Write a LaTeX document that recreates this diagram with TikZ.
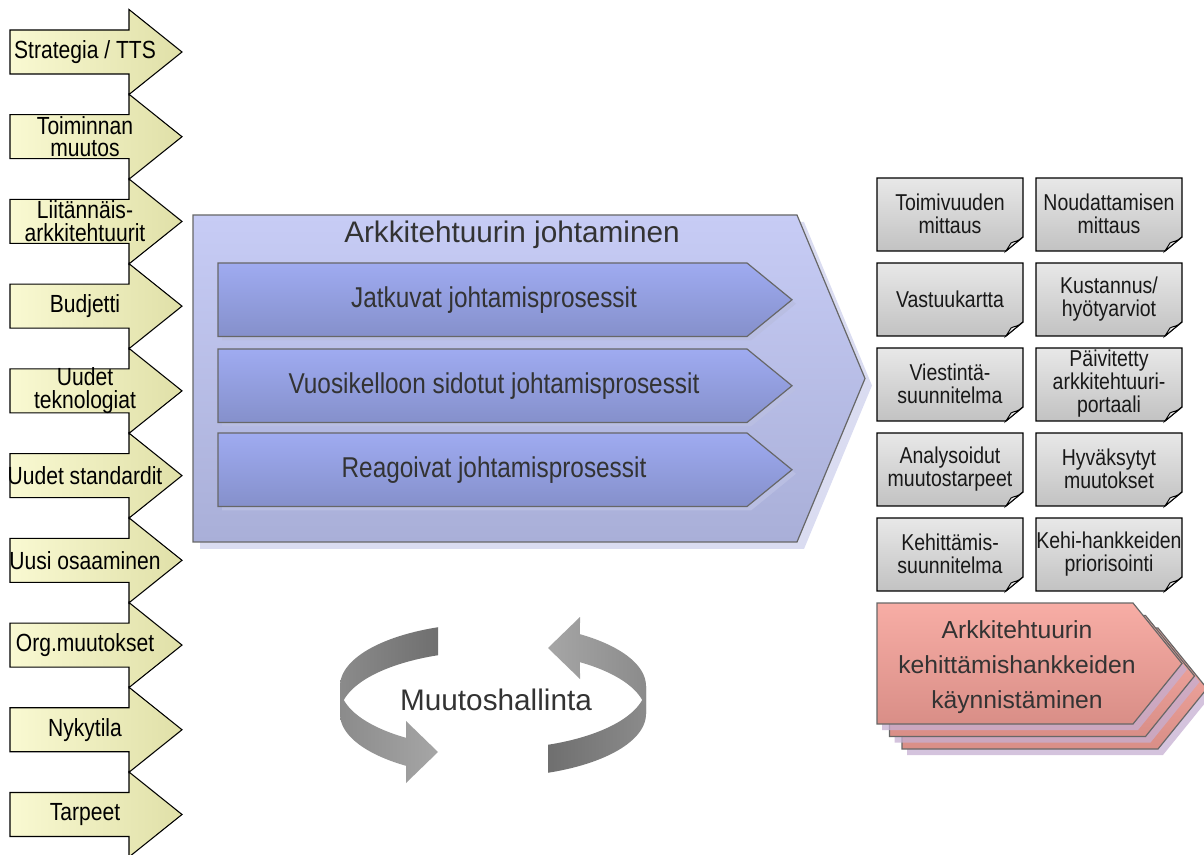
\documentclass[tikz,border=0pt]{standalone}
\usepackage{fontspec}
\setmainfont{Liberation Sans}
\newfontfamily\narrowsf{Liberation Sans}[FakeStretch=0.85]
\usetikzlibrary{calc}

\definecolor{inL}{HTML}{F9F9D2}
\definecolor{inR}{HTML}{E0E0A8}
\definecolor{mainT}{HTML}{C7CCF5}
\definecolor{mainB}{HTML}{A9AFD8}
\definecolor{mainShadow}{HTML}{DADCF1}
\definecolor{procT}{HTML}{9FABF1}
\definecolor{procB}{HTML}{8590CB}
\definecolor{procShadow}{HTML}{B9BEE2}
\definecolor{docT}{HTML}{E8E8E8}
\definecolor{docB}{HTML}{C2C2C2}
\definecolor{pinkT}{HTML}{F7ADA5}
\definecolor{pinkB}{HTML}{D98E87}
\definecolor{pinkShadow}{HTML}{C6AFD2}
\definecolor{ringDark}{HTML}{6F6F6F}
\definecolor{ringMid}{HTML}{8B8B8B}
\definecolor{ringLight}{HTML}{A6A6A6}
\definecolor{txtgray}{HTML}{333333}
\definecolor{edgegray}{HTML}{676767}

\begin{document}
\begin{tikzpicture}[x=0.75pt,y=-0.75pt,
  inarrow/.style={draw=black, line width=0.8pt, left color=inL, right color=inR},
  intext/.style={font=\narrowsf\fontsize{18.6}{17}\selectfont, align=center, text=black, inner sep=0pt},
  mainshape/.style={draw=edgegray, line width=0.9pt, top color=mainT, bottom color=mainB},
  procshape/.style={draw=edgegray, line width=0.9pt, top color=procT, bottom color=procB},
  proctext/.style={font=\narrowsf\fontsize{21.5}{24}\selectfont, text=txtgray, inner sep=0pt},
  titletext/.style={font=\fontsize{22.3}{26}\selectfont, text=txtgray, inner sep=0pt},
  docshape/.style={draw=black, line width=0.9pt, top color=docT, bottom color=docB},
  docflap/.style={draw=black, line width=0.7pt, fill=docT},
  doctext/.style={font=\narrowsf\fontsize{17.2}{17.2}\selectfont, align=center, text=black!90, inner sep=0pt},
  pinkshape/.style={draw=edgegray, line width=0.9pt, top color=pinkT, bottom color=pinkB},
  pinktext/.style={font=\fontsize{18.5}{26}\selectfont, align=center, text=txtgray, inner sep=0pt}]

\useasboundingbox (0,0) rectangle (1204,855);

% ---------- input arrows on the left ----------
\foreach \txt [count=\i from 0] in {{Strategia / TTS},{Toiminnan\\muutos},{Liitännäis-\\arkkitehtuurit},{Budjetti},{Uudet\\teknologiat},{Uudet standardit},{Uusi osaaminen},{Org.muutokset},{Nykytila},{Tarpeet}}{
  \pgfmathsetmacro\cy{52+84.72*\i}
  \path[inarrow] (10,\cy-22) -- (129,\cy-22) -- (129,\cy-42.5) -- (182,\cy)
        -- (129,\cy+42.5) -- (129,\cy+22) -- (10,\cy+22) -- cycle;
  \node[intext] (in\i) at (85,\cy) {\txt};
}

% ---------- architecture management block ----------
\fill[mainShadow] (200,222) -- (804,222) -- (872,385.5) -- (804,549) -- (200,549) -- cycle;
\path[mainshape] (193,215) -- (797,215) -- (865,378.5) -- (797,542) -- (193,542) -- cycle;
\node[titletext] (title) at (512,235) {Arkkitehtuurin johtaminen};

\foreach \top/\txt [count=\i] in {263/{Jatkuvat johtamisprosessit},349/{Vuosikelloon sidotut johtamisprosessit},433/{Reagoivat johtamisprosessit}}{
  \pgfmathsetmacro\bot{\top+73.5}
  \pgfmathsetmacro\mid{\top+36.75}
  \fill[procShadow] (222,\top+4) -- (751,\top+4) -- (796,\mid+4) -- (751,\bot+4) -- (222,\bot+4) -- cycle;
  \path[procshape] (218,\top) -- (747,\top) -- (792,\mid) -- (747,\bot) -- (218,\bot) -- cycle;
  \node[proctext] (proc\i) at (494,\mid) {\txt};
}

% ---------- output documents ----------
\foreach \col/\row/\txt [count=\i] in {
  0/0/{Toimivuuden\\mittaus}, 1/0/{Noudattamisen\\mittaus},
  0/1/{Vastuukartta}, 1/1/{Kustannus/\\hyötyarviot},
  0/2/{Viestintä-\\suunnitelma}, 1/2/{Päivitetty\\arkkitehtuuri-\\portaali},
  0/3/{Analysoidut\\muutostarpeet}, 1/3/{Hyväksytyt\\muutokset},
  0/4/{Kehittämis-\\suunnitelma}, 1/4/{Kehi-hankkeiden\\priorisointi}}{
  \pgfmathsetmacro\xa{877+159*\col}
  \pgfmathsetmacro\ya{178+85*\row}
  \pgfmathsetmacro\xb{\xa+146}
  \pgfmathsetmacro\yb{\ya+73}
  \path[docshape] (\xa,\ya) -- (\xb,\ya) -- (\xb,\yb-14) -- (\xb-17,\yb) -- (\xa,\yb) -- cycle;
  \path[docflap] (\xb,\yb-14) .. controls (\xb-5,\yb-9) and (\xb-9,\yb-10) .. (\xb-12,\yb-8)
        -- (\xb-17,\yb) -- cycle;
  \node[doctext] (doc\i) at ({\xa+73},{\ya+36}) {\txt};
}

% ---------- stacked launch arrow ----------
\foreach \d in {25,12.5,0}{
  \fill[pinkShadow, opacity=0.75] (877+\d+5,603+\d+6) -- ++(256,0) -- ++(49,60.5) -- ++(-49,60.5) -- ++(-256,0) -- cycle;
  \path[pinkshape] (877+\d,603+\d) -- ++(256,0) -- ++(49,60.5) -- ++(-49,60.5) -- ++(-256,0) -- cycle;
}
\node[pinktext] (launch) at (1017,667)
  {Arkkitehtuurin\\kehittämishankkeiden\\käynnistäminen};

% ---------- change management cycle ----------
% left ribbon arrow: inner back face, then outer front face with head
\path[left color=ringMid, right color=ringDark]
  plot[domain=111.07:180, samples=30] ({493+153*cos(\x)},{686-63*sin(\x)})
  -- plot[domain=180:111.07, samples=30] ({493+153*cos(\x)},{714-63*sin(\x)}) -- cycle;
\path[left color=ringMid, right color=ringLight]
  plot[domain=180:235.35, samples=30] ({493+153*cos(\x)},{686-63*sin(\x)})
  -- (406,721) -- (438,752) -- (406,783)
  -- plot[domain=235.35:180, samples=30] ({493+153*cos(\x)},{714-63*sin(\x)}) -- cycle;
% right ribbon arrow, the same ribbon turned half a revolution
\path[left color=ringDark, right color=ringMid]
  plot[domain=111.07:180, samples=30] ({493-153*cos(\x)},{714+63*sin(\x)})
  -- plot[domain=180:111.07, samples=30] ({493-153*cos(\x)},{686+63*sin(\x)}) -- cycle;
\path[left color=ringLight, right color=ringMid]
  plot[domain=180:235.35, samples=30] ({493-153*cos(\x)},{714+63*sin(\x)})
  -- (580,679) -- (548,648) -- (580,617)
  -- plot[domain=235.35:180, samples=30] ({493-153*cos(\x)},{686+63*sin(\x)}) -- cycle;
\node[titletext] (cycle) at (496,700) {Muutoshallinta};

\end{tikzpicture}
\end{document}
